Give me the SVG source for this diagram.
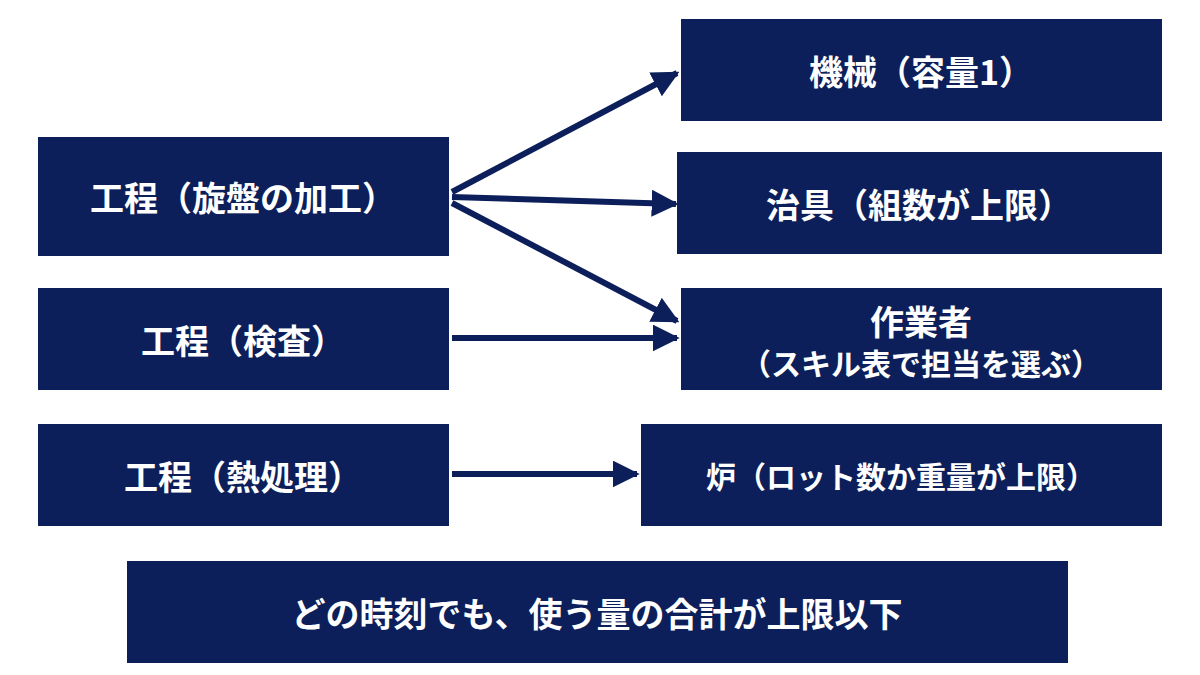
<svg xmlns="http://www.w3.org/2000/svg" width="1200" height="675" viewBox="0 0 1200 675">
<style>
.b{fill:#0c1f5a}
.t{fill:#fff;font-family:"Noto Sans CJK JP","Noto Sans",sans-serif;font-weight:bold;font-size:34px;text-anchor:middle;dominant-baseline:central}
.s{font-size:30px}
.c{stroke:#0c1f5a;stroke-width:6;fill:none;marker-end:url(#a)}
</style>
<defs><marker id="a" viewBox="0 0 10 10" refX="9" refY="5" markerWidth="4.5" markerHeight="4.5" orient="auto" markerUnits="strokeWidth"><path d="M0,0L10,5L0,10z" fill="#0c1f5a"/></marker></defs>
<rect width="1200" height="675" fill="#fff"/>
<g id="p1"><rect class="b" x="38" y="137" width="411" height="119"/><text class="t" x="243" y="196">工程（旋盤の加工）</text></g>
<g id="p2"><rect class="b" x="38" y="288" width="411" height="102"/><text class="t" x="243" y="339">工程（検査）</text></g>
<g id="p3"><rect class="b" x="38" y="424" width="411" height="102"/><text class="t" x="243" y="475">工程（熱処理）</text></g>
<g id="r1"><rect class="b" x="681" y="19" width="481" height="102"/><text class="t" x="921" y="70">機械（容量1）</text></g>
<g id="r2"><rect class="b" x="677" y="152" width="485" height="102"/><text class="t" x="919" y="203">治具（組数が上限）</text></g>
<g id="r3"><rect class="b" x="681" y="288" width="481" height="102"/><text class="t" x="921" y="320">作業者</text><text class="t s" x="921" y="362">（スキル表で担当を選ぶ）</text></g>
<g id="r4"><rect class="b" x="641" y="424" width="521" height="102"/><text class="t s" x="901" y="475">炉（ロット数か重量が上限）</text></g>
<g id="n"><rect class="b" x="127" y="561" width="941" height="102"/><text class="t" x="597" y="612">どの時刻でも、使う量の合計が上限以下</text></g>
<g id="connectors">
<line class="c" x1="452" y1="192" x2="677" y2="73"/>
<line class="c" x1="452" y1="197" x2="676" y2="204"/>
<line class="c" x1="452" y1="203" x2="677" y2="321"/>
<line class="c" x1="452" y1="338" x2="677" y2="338"/>
<line class="c" x1="452" y1="474" x2="637" y2="474"/>
</g>
</svg>
